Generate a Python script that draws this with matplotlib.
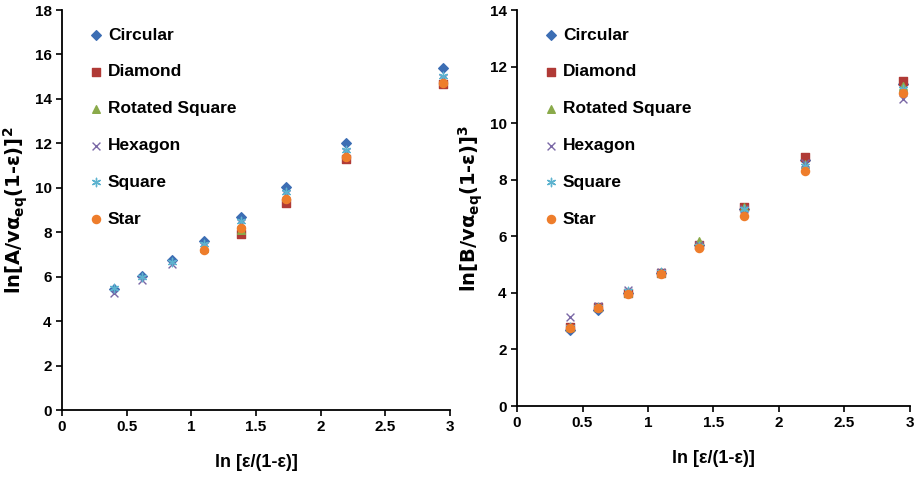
import numpy as np
import matplotlib
matplotlib.use("Agg")
import matplotlib.pyplot as plt

nan = np.nan
x = [0.405, 0.619, 0.847, 1.099, 1.386, 1.735, 2.197, 2.944]

series = ["Circular", "Diamond", "Rotated Square", "Hexagon", "Square", "Star"]

# left panel: ln[A/v a_eq (1-e)]^2
a_circular = [5.45, 6.05, 6.75, 7.6, 8.7, 10.05, 12.0, 15.4]
a_diamond = [nan, nan, nan, nan, 7.9, 9.3, 11.3, 14.65]
a_rotated = [nan, nan, nan, 7.3, 8.1, 9.6, 11.5, 14.8]
a_hexagon = [5.25, 5.85, 6.55, 7.4, 8.4, 9.7, 11.6, 14.95]
a_square = [5.5, 6.0, 6.65, 7.45, 8.5, 9.8, 11.7, 15.05]
a_star = [nan, nan, nan, 7.2, 8.2, 9.5, 11.4, 14.7]

# right panel: ln[B/v a_eq (1-e)]^3
b_circular = [2.7, 3.4, 4.0, 4.7, 5.7, 6.95, 8.7, 11.4]
b_diamond = [2.8, 3.5, 4.0, 4.7, 5.7, 7.05, 8.8, 11.5]
b_rotated = [2.8, 3.5, 4.0, 4.7, 5.85, 7.05, 8.55, 11.3]
b_hexagon = [3.15, 3.55, 4.1, 4.75, 5.7, 6.95, 8.6, 10.85]
b_square = [2.8, 3.5, 4.05, 4.75, 5.65, 6.95, 8.5, 11.2]
b_star = [2.75, 3.45, 3.95, 4.65, 5.6, 6.7, 8.3, 11.05]

styles = {
    "Circular": dict(marker="D", color="#3C6EB4", s=24),
    "Diamond": dict(marker="s", color="#B03A36", s=26),
    "Rotated Square": dict(marker="^", color="#8AAA4A", s=30),
    "Hexagon": dict(marker="x", color="#7A68A6", s=32, linewidths=1.0),
    "Square": dict(marker=(6, 2, 0), color="#5DB3CF", s=36, linewidths=1.0),
    "Star": dict(marker="o", color="#EE7D2B", s=34),
}

plt.rcParams["font.family"] = ["Liberation Sans Narrow", "Liberation Sans", "DejaVu Sans"]
plt.rcParams["font.weight"] = "bold"

fig = plt.figure(figsize=(9.18, 4.78), dpi=100)
ax1 = fig.add_axes([62 / 918, 68 / 478, 388 / 918, 400 / 478])
ax2 = fig.add_axes([517 / 918, 72 / 478, 393 / 918, 396 / 478])

panels = [
    (ax1, [a_circular, a_diamond, a_rotated, a_hexagon, a_square, a_star], 18,
     r"ln[A/v$\mathbf{\alpha_{eq}}$(1-ε)]$\mathbf{^2}$"),
    (ax2, [b_circular, b_diamond, b_rotated, b_hexagon, b_square, b_star], 14,
     r"ln[B/v$\mathbf{\alpha_{eq}}$(1-ε)]$\mathbf{^3}$"),
]

for ax, data, ymax, ylab in panels:
    for name, vals in zip(series, data):
        ax.scatter(x, vals, label=name, zorder=3, **styles[name])
    ax.set_xlim(0, 3)
    ax.set_ylim(0, ymax)
    ax.set_xticks(np.arange(0, 3.01, 0.5))
    ax.set_xticklabels(["0", "0.5", "1", "1.5", "2", "2.5", "3"])
    ax.set_yticks(np.arange(0, ymax + 0.1, 2))
    ax.spines["top"].set_visible(False)
    ax.spines["right"].set_visible(False)
    ax.spines["left"].set_linewidth(1.3)
    ax.spines["bottom"].set_linewidth(1.3)
    ax.tick_params(direction="out", length=4, width=1.2, labelsize=11)
    for lab in ax.get_xticklabels() + ax.get_yticklabels():
        lab.set_fontweight("bold")
    ax.set_xlabel("ln [ε/(1-ε)]", fontsize=13, fontweight="bold", labelpad=14)
    ax.set_ylabel(ylab, fontsize=14, fontweight="bold", family="DejaVu Sans", labelpad=3)
    leg = ax.legend(loc="upper left", frameon=False, fontsize=12.5, handletextpad=0.1,
                    labelspacing=1.25, borderaxespad=0.6, handlelength=1.2,
                    bbox_to_anchor=(0.015, 1.0))
    for t in leg.get_texts():
        t.set_fontweight("bold")

fig.savefig("out.png", dpi=100)
